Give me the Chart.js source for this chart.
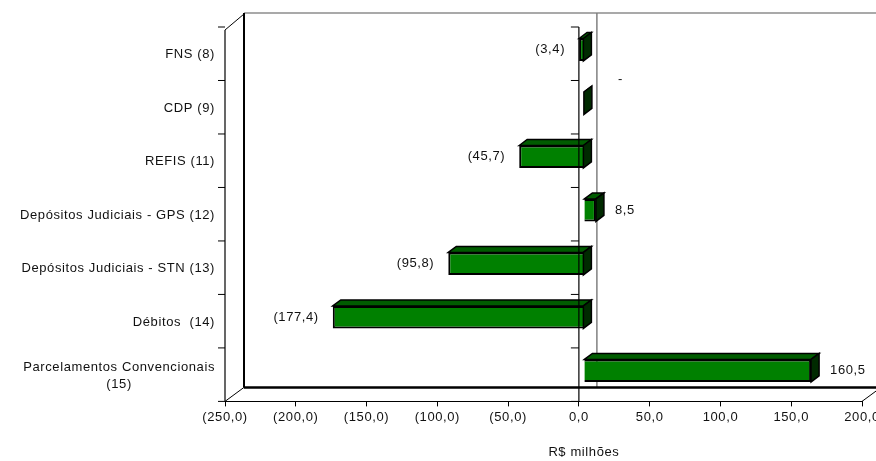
<!DOCTYPE html>
<html>
<head>
<meta charset="utf-8">
<script src="https://cdn.jsdelivr.net/npm/chart.js@4.4.0/dist/chart.umd.min.js"></script>
<style>
  html, body { margin: 0; padding: 0; background: #fff; }
  #wrap { width: 876px; height: 461px; }
</style>
</head>
<body>
<div id="wrap"><canvas id="chart"></canvas></div>
<script>
// data (R$ milhões)
const categories = [
  'FNS (8)',
  'CDP (9)',
  'REFIS (11)',
  'Depósitos Judiciais - GPS (12)',
  'Depósitos Judiciais - STN (13)',
  'Débitos  (14)',
  ['Parcelamentos Convencionais', '(15)']
];
const values = [-3.4, 0, -45.7, 8.5, -95.8, -177.4, 160.5];
const xTicks = [-250, -200, -150, -100, -50, 0, 50, 100, 150, 200];
const axisTitle = 'R$ milhões';

// 3d look
const depth = { dx: 19, dy: -14 };     // box depth (front plane -> back wall)
const barShift = { dx: 5, dy: -4 };    // bars sit a little behind the front plane
const barDepth = { dx: 8, dy: -6 };
const spacing = '0.6px';
const textFont = '13px "Liberation Sans", Arial, sans-serif';

function fmt(v) {
  let s = Math.abs(v).toFixed(1).replace('.', ',');
  return v < 0 ? '(' + s + ')' : s;
}

function line(ctx, x1, y1, x2, y2, color, width) {
  ctx.beginPath();
  ctx.strokeStyle = color;
  ctx.lineWidth = width;
  ctx.moveTo(x1, y1);
  ctx.lineTo(x2, y2);
  ctx.stroke();
}

function poly(ctx, pts, fill) {
  ctx.beginPath();
  ctx.moveTo(pts[0][0], pts[0][1]);
  for (let i = 1; i < pts.length; i++) ctx.lineTo(pts[i][0], pts[i][1]);
  ctx.closePath();
  ctx.fillStyle = fill;
  ctx.fill();
  ctx.strokeStyle = '#000';
  ctx.lineWidth = 1.5;
  ctx.stroke();
}

// category boundaries on the front plane
function boundaries(yScale) {
  let out = [];
  let n = categories.length;
  for (let i = 0; i <= n; i++) {
    out.push(yScale.top + (yScale.bottom - yScale.top) * i / n);
  }
  return out;
}

const box3d = {
  id: 'box3d',
  beforeLayout(chart) { chart.ctx.letterSpacing = spacing; },
  beforeDraw(chart) { chart.ctx.letterSpacing = spacing; },
  beforeDatasetsDraw(chart) {
    const ctx = chart.ctx;
    const a = chart.chartArea;
    const x0 = chart.scales.x.getPixelForValue(0);
    const L = a.left, R = a.right, T = a.top, B = a.bottom;
    ctx.save();
    // back wall
    line(ctx, L + depth.dx, T + depth.dy, R + depth.dx + 20, T + depth.dy, '#555', 1.2);
    line(ctx, L + depth.dx, T + depth.dy, L + depth.dx, B + depth.dy, '#000', 2);
    line(ctx, x0 + depth.dx - 1, T + depth.dy, x0 + depth.dx - 1, B + depth.dy, '#808080', 1.5);
    // floor
    line(ctx, L + depth.dx, B + depth.dy, R + depth.dx + 20, B + depth.dy, '#000', 2.5);
    line(ctx, L, B, L + depth.dx, B + depth.dy, '#000', 1);
    line(ctx, R, B, R + depth.dx, B + depth.dy, '#000', 1);
    // left wall
    line(ctx, L, T + 3, L + depth.dx, T + depth.dy + 1, '#000', 1);
    line(ctx, L, T + 3, L, B, '#000', 1.2);
    boundaries(chart.scales.y).forEach(function (y) {
      line(ctx, L - 7, y, L, y, '#000', 1);
    });
    ctx.restore();
    ctx.save();
    ctx.translate(barShift.dx, barShift.dy);
  },
  afterDatasetsDraw(chart) {
    const ctx = chart.ctx;
    const meta = chart.getDatasetMeta(0);
    meta.data.forEach(function (el) {
      const p = el.getProps(['x', 'y', 'base', 'height'], true);
      const l = Math.min(p.x, p.base), r = Math.max(p.x, p.base);
      const t = p.y - p.height / 2, b = p.y + p.height / 2;
      poly(ctx, [[l, t], [l + barDepth.dx, t + barDepth.dy], [r + barDepth.dx, t + barDepth.dy], [r, t]], '#005c00');
      poly(ctx, [[r, t], [r + barDepth.dx, t + barDepth.dy], [r + barDepth.dx, b + barDepth.dy], [r, b]], '#002a00');
    });
    ctx.restore();

    const a = chart.chartArea;
    const xs = chart.scales.x, ys = chart.scales.y;
    const x0 = xs.getPixelForValue(0);
    ctx.save();
    ctx.letterSpacing = spacing;
    // category axis crossing at zero
    line(ctx, x0, a.top, x0, a.bottom, '#000', 1.2);
    boundaries(ys).forEach(function (y) {
      line(ctx, x0 - 8, y, x0, y, '#000', 1);
    });

    ctx.font = textFont;
    ctx.fillStyle = '#111';
    ctx.textBaseline = 'middle';
    // category labels, right aligned, extra lines centred under the first
    categories.forEach(function (c, i) {
      const y = ys.getPixelForValue(i) + 1;
      const lines = Array.isArray(c) ? c : [c];
      const right = a.left - 10;
      if (lines.length === 1) {
        ctx.textAlign = 'right';
        ctx.fillText(lines[0], right, y);
      } else {
        const w = ctx.measureText(lines[0]).width;
        const cx = right - w / 2;
        ctx.textAlign = 'center';
        lines.forEach(function (s, k) {
          ctx.fillText(s, cx, y + (k - (lines.length - 1) / 2) * 17);
        });
      }
    });

    // value labels
    meta.data.forEach(function (el, i) {
      const v = values[i];
      const p = el.getProps(['x', 'y', 'base'], true);
      const y = p.y + barShift.dy;
      if (v < 0) {
        ctx.textAlign = 'right';
        ctx.fillText(fmt(v), p.x + barShift.dx - 14, y);
      } else if (v > 0) {
        ctx.textAlign = 'left';
        ctx.fillText(fmt(v), p.x + barShift.dx + 19, y);
      } else {
        ctx.textAlign = 'left';
        ctx.fillText('-', p.base + barShift.dx + 34, y - 24);
      }
    });

    // axis title
    ctx.textAlign = 'center';
    ctx.fillText(axisTitle, x0 + 5, 452);
    ctx.restore();
  }
};

const ctx = document.getElementById('chart').getContext('2d');
const myChart = new Chart(ctx, {
  type: 'bar',
  data: {
    labels: categories,
    datasets: [{
      data: values,
      backgroundColor: '#008000',
      borderColor: '#000',
      borderWidth: 2,
      categoryPercentage: 1,
      barPercentage: 0.42
    }]
  },
  options: {
    indexAxis: 'y',
    responsive: true,
    maintainAspectRatio: false,
    animation: false,
    layout: { padding: { left: 217, right: 14, top: 27, bottom: 33 } },
    plugins: {
      legend: { display: false },
      tooltip: { enabled: false }
    },
    scales: {
      x: {
        min: -250,
        max: 200,
        afterBuildTicks: function (scale) {
          scale.ticks = xTicks.map(function (v) { return { value: v }; });
        },
        afterFit: function (scale) {
          scale.paddingLeft = 0;
          scale.paddingRight = 0;
        },
        ticks: {
          color: '#111',
          font: { family: '"Liberation Sans", Arial, sans-serif', size: 13 },
          padding: 3,
          maxRotation: 0,
          autoSkip: false,
          callback: function (v) { return fmt(v); }
        },
        grid: { display: true, drawOnChartArea: false, drawTicks: true, tickLength: 5, color: '#000' },
        border: { display: true, color: '#000', width: 1 }
      },
      y: {
        ticks: { display: false },
        grid: { display: false },
        border: { display: false }
      }
    }
  },
  plugins: [box3d]
});
</script>
</body>
</html>
